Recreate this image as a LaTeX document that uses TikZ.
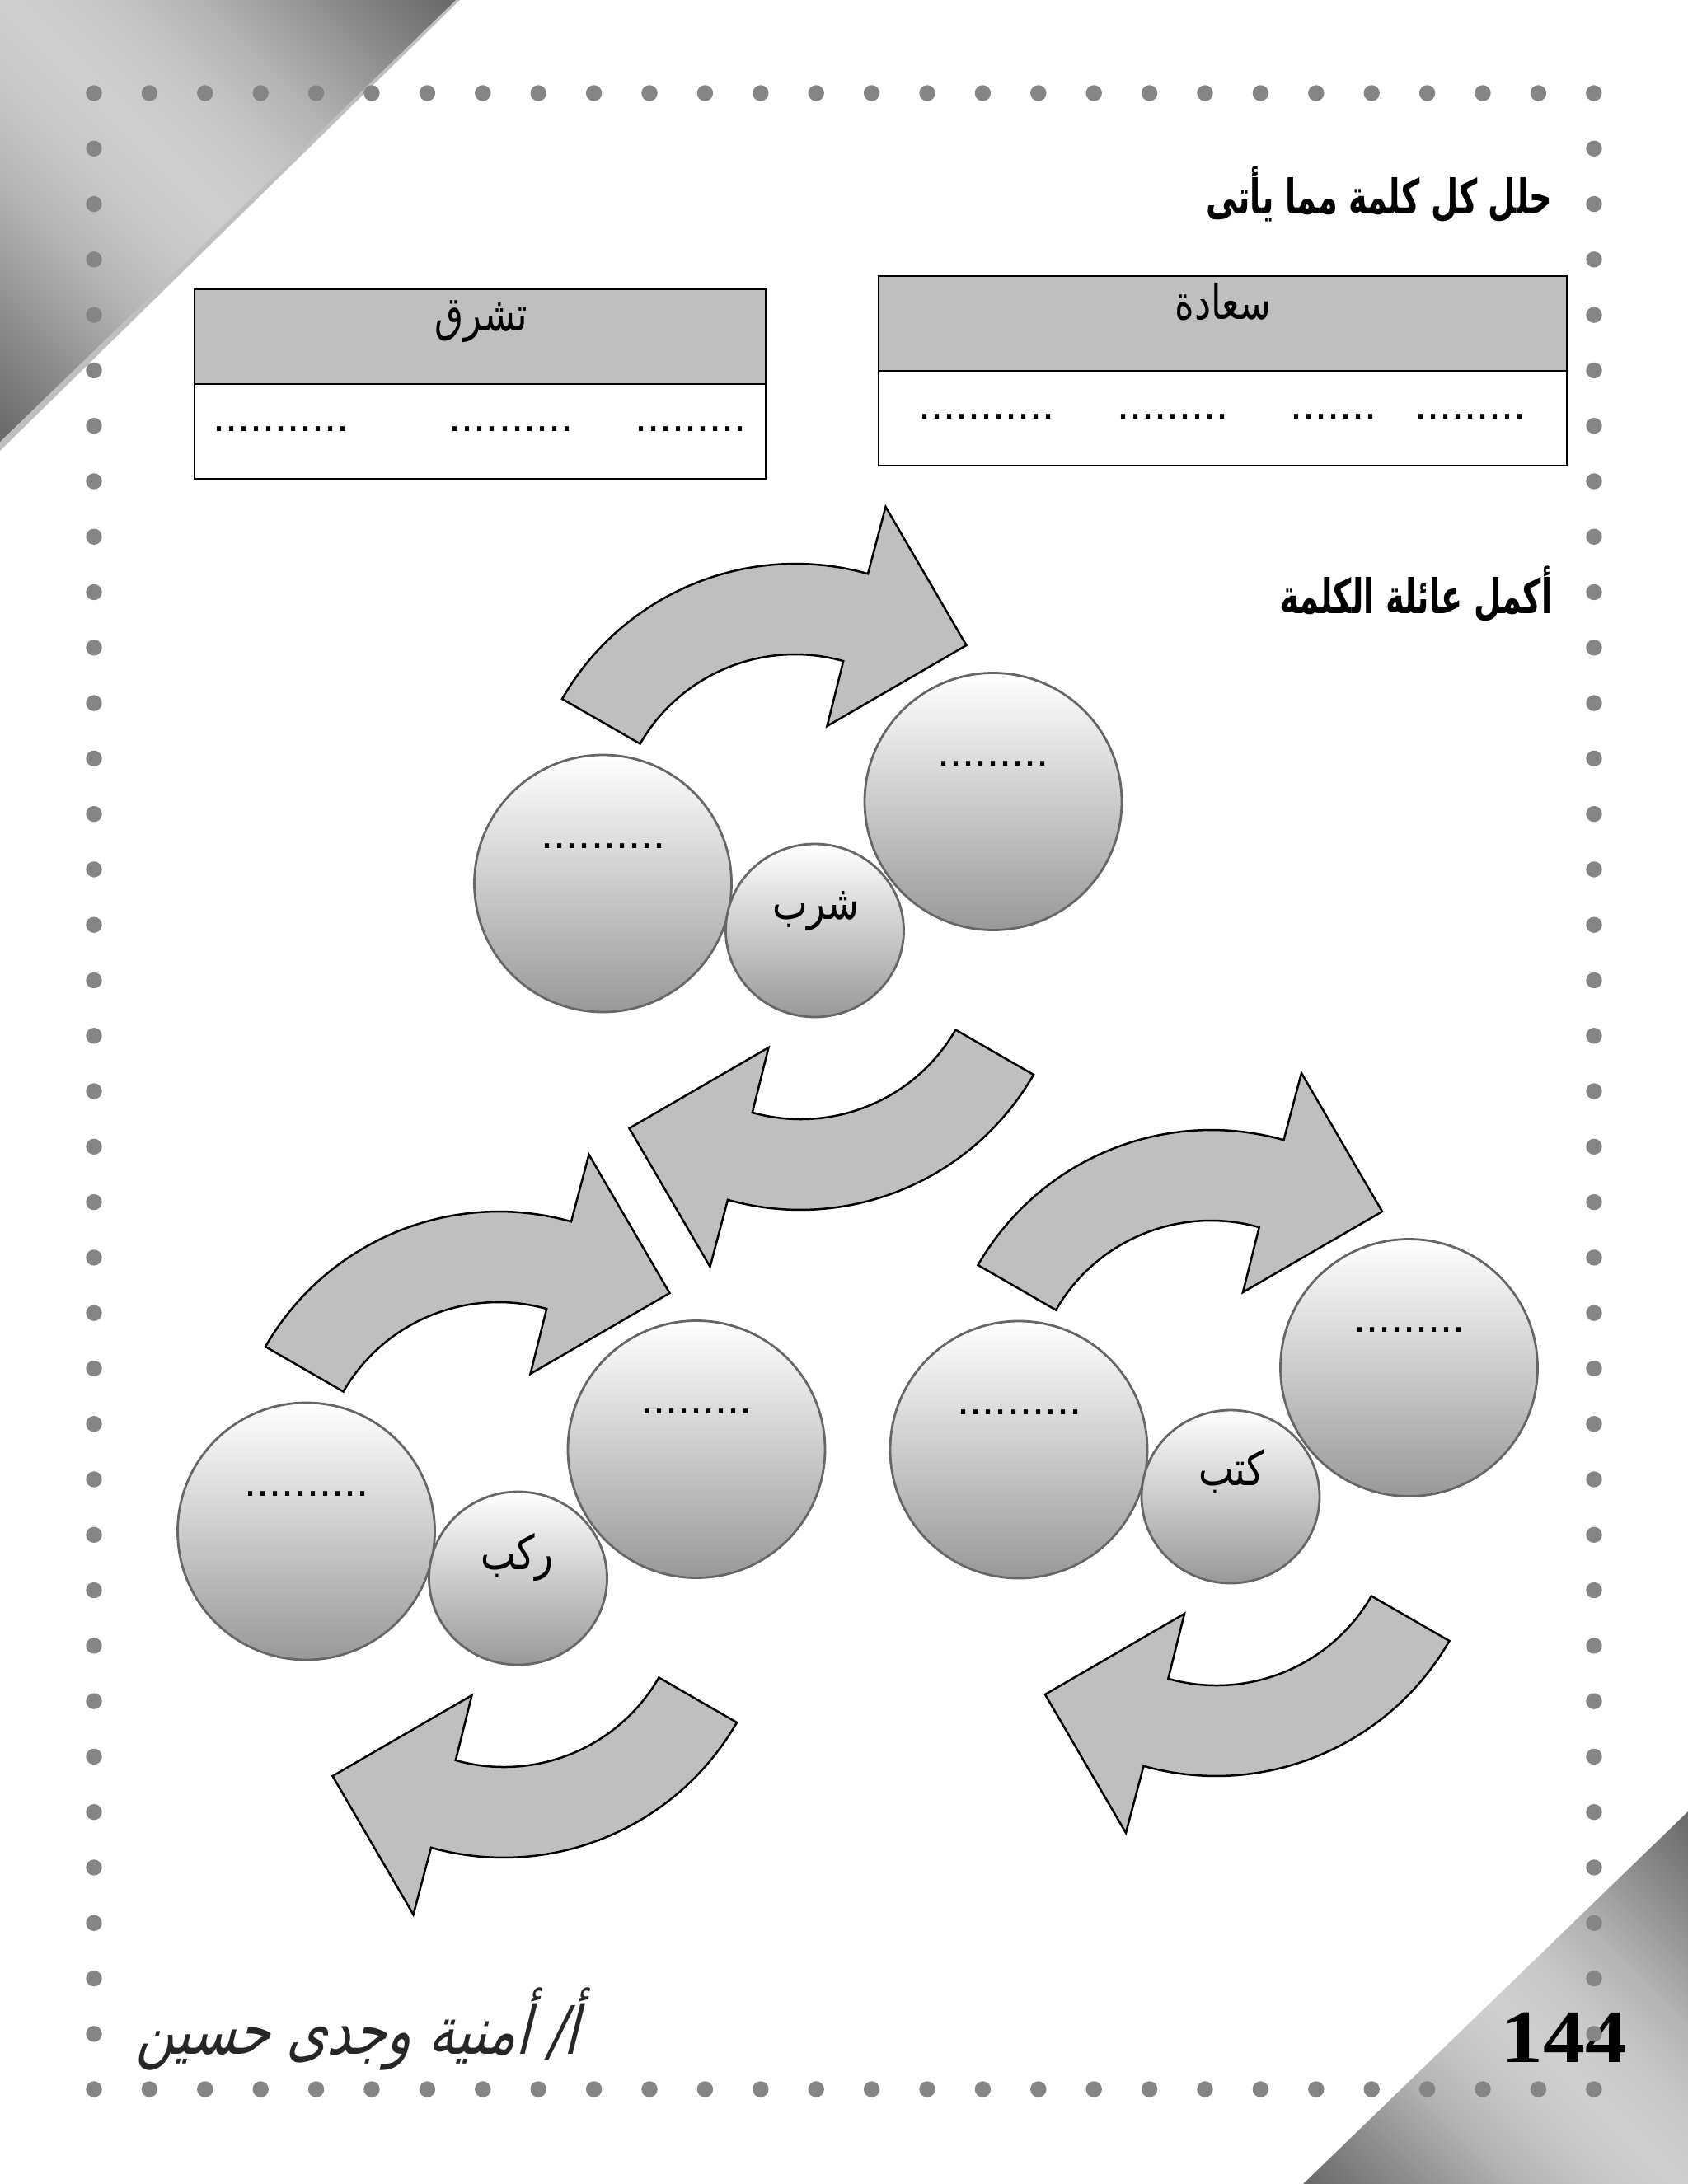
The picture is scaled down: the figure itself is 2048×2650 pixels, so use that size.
\documentclass[tikz,border=0pt]{standalone}
\usepackage{fontspec}
\usetikzlibrary{shapes.geometric}
\TeXXeTstate=1
\setmainfont{Liberation Serif}
\newfontfamily\pagefont[FakeStretch=1.115]{Liberation Serif}
\newfontfamily\dotfont{Liberation Sans}
\newfontfamily\arabicfont[Script=Arabic, FakeStretch=0.78]{DejaVu Sans}
\newfontfamily\arabicheadfont[Script=Arabic, FakeStretch=0.66]{DejaVu Sans}
\newcommand{\arword}[1]{\beginR #1\endR}

\definecolor{Boxgray}{HTML}{BFBFBF}
\definecolor{Ringgray}{HTML}{666666}
\definecolor{Dotgray}{HTML}{858585}
\pgfdeclareverticalshading{cornerfade}{100bp}{
  rgb(0bp)=(.416,.416,.416); rgb(15bp)=(.416,.416,.416); rgb(25bp)=(.557,.557,.557);
  rgb(35bp)=(.706,.706,.706); rgb(43bp)=(.784,.784,.784); rgb(50bp)=(.812,.812,.812);
  rgb(57bp)=(.784,.784,.784); rgb(65bp)=(.706,.706,.706); rgb(75bp)=(.557,.557,.557);
  rgb(85bp)=(.416,.416,.416); rgb(100bp)=(.416,.416,.416)}

\tikzset{
  ball/.style={draw=Ringgray, line width=0.28mm, ellipse, inner sep=0pt, top color=white, middle color=black!13, bottom color=black!40},
  bigball/.style={ball, minimum width=31.2cm/10, minimum height=31.2cm/10},
  smallball/.style={ball, minimum width=21.6cm/10, minimum height=21cm/10},
  headbox/.style={draw, line width=0.2mm, fill=Boxgray, inner sep=0pt, anchor=north west},
  bodybox/.style={draw, line width=0.2mm, fill=white, inner sep=0pt, anchor=north west},
  dotrow/.style={font=\dotfont\fontsize{15.4}{18}\selectfont, inner sep=0pt, anchor=base},
  word/.style={font=\arabicfont\fontsize{16.5}{20}\selectfont, inner sep=0pt},
  heading/.style={font=\arabicheadfont\bfseries\fontsize{16.5}{20}\selectfont, inner sep=0pt, anchor=east},
  corner/.style={shading=cornerfade, shading angle=-45},
  turnarrow/.pic={
    \draw[fill=Boxgray, line width=0.25mm, line join=miter]
      (-286,-228) .. controls (-211.3,-357.4) and (-58.8,-420.2) .. (85,-379.8)
      -- (106.5,-461) -- (204.5,-293) -- (35.5,-195) -- (55.2,-273.9)
      .. controls (-40.3,-300.7) and (-141.8,-259.4) .. (-191.4,-173.5) -- cycle;
  }
}

\begin{document}
\begin{tikzpicture}[x=0.1mm, y=-0.1mm]
\useasboundingbox (0,0) rectangle (2048,2650);

% corners
\fill[Boxgray] (0,0) -- (558,0) -- (0,547) -- cycle;
\shade[corner] (0,0) -- (553,0) -- (0,536) -- cycle;
\shade[corner] (2048,2198) -- (2048,2650) -- (1581,2650) -- cycle;

% page number under the dots
\node[font=\pagefont\bfseries\fontsize{26}{30}\selectfont, inner sep=0pt, anchor=base] (page) at (1898,2502) {144};

% dotted frame
\foreach \i in {0,...,27} {
  \fill[Dotgray] (114+67.4*\i,113) circle (9.7);
  \fill[Dotgray] (114+67.4*\i,2535) circle (9.7);
}
\foreach \i in {1,...,35} {
  \fill[Dotgray] (114,113+67.28*\i) circle (9.7);
  \fill[Dotgray] (1934,113+67.28*\i) circle (9.7);
}

% headings
\node[heading] (headA) at (1884,236) {\arword{حلل كل كلمة مما يأتى}};
\node[heading] (headB) at (1884,721) {\arword{أكمل عائلة الكلمة}};

% tables
\node[headbox, minimum width=69.3cm/10, minimum height=11.5cm/10] (tabA) at (235,350) {};
\node[bodybox, minimum width=69.3cm/10, minimum height=11.5cm/10] (rowA) at (235,465) {};
\node[headbox, minimum width=83.5cm/10, minimum height=11.5cm/10] (tabB) at (1065,334) {};
\node[bodybox, minimum width=83.5cm/10, minimum height=11.5cm/10] (rowB) at (1065,449) {};
\node[word] (wA) at (584,390) {\arword{تشرق}};
\node[word] (wB) at (1484,366) {\arword{سعادة}};
\node[dotrow] (dA1) at (341,523) {...........};
\node[dotrow] (dA2) at (620,523) {..........};
\node[dotrow] (dA3) at (838,523) {.........};
\node[dotrow] (dB1) at (1197,508) {...........};
\node[dotrow] (dB2) at (1423,508) {.........};
\node[dotrow] (dB3) at (1618,508) {.......};
\node[dotrow] (dB4) at (1784,508) {.........};

% arrows
\pic at (968,1076) {turnarrow};
\pic[rotate=180] at (968,1076) {turnarrow};
\pic at (608,1862) {turnarrow};
\pic[rotate=180] at (608,1862) {turnarrow};
\pic at (1472.5,1763) {turnarrow};
\pic[rotate=180] at (1472.5,1763) {turnarrow};

% circles
\node[bigball] (A) at (731.5,1072) {};
\node[bigball] (B) at (1205,972.5) {};
\node[smallball] (a) at (988.5,1129) {};
\node[bigball] (C) at (371.5,1858) {};
\node[bigball] (D) at (845,1758.5) {};
\node[smallball] (c) at (628.5,1915) {};
\node[bigball] (E) at (1236,1759) {};
\node[bigball] (F) at (1709.5,1659.5) {};
\node[smallball] (e) at (1493,1816) {};

\node[dotrow] (dotA) at (732,1029) {..........};
\node[dotrow] (dotB) at (1205,929) {.........};
\node[word] (wa) at (990,1106) {\arword{شرب}};
\node[dotrow] (dotC) at (372,1815) {..........};
\node[dotrow] (dotD) at (845,1715) {.........};
\node[word] (wc) at (627,1890) {\arword{ركب}};
\node[dotrow] (dotE) at (1237,1716) {..........};
\node[dotrow] (dotF) at (1710,1616) {.........};
\node[word] (we) at (1494,1785) {\arword{كتب}};

% signature
\node[font=\arabicfont\fontsize{23}{26}\selectfont, text=black!85, inner sep=0pt, xslant=0.25] (sign) at (441,2462) {\arword{أ/ أمنية وجدى حسين}};
\end{tikzpicture}
\end{document}
